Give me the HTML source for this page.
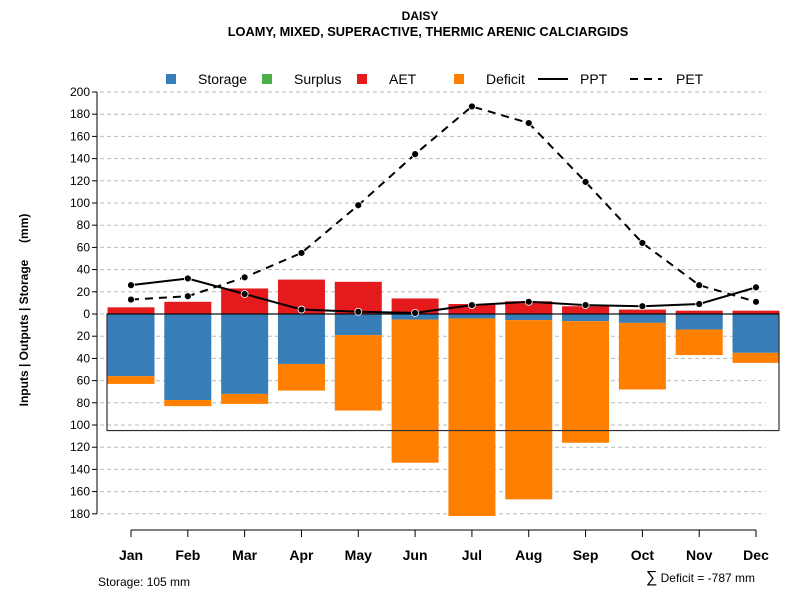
<!DOCTYPE html>
<html><head><meta charset="utf-8"><style>
body{margin:0;background:#fff}
svg text{font-family:"Liberation Sans",sans-serif}
</style></head><body>
<svg id="c" width="800" height="600">
<text x="420" y="20" text-anchor="middle" font-size="12" font-weight="bold">DAISY</text>
<text x="428" y="36" text-anchor="middle" font-size="12.8" font-weight="bold">LOAMY, MIXED, SUPERACTIVE, THERMIC ARENIC CALCIARGIDS</text>
<g font-size="14">
<rect x="166" y="74" width="10" height="10" fill="#377eb8"/><text x="198" y="84">Storage</text>
<rect x="262" y="74" width="10" height="10" fill="#4daf4a"/><text x="294" y="84">Surplus</text>
<rect x="357" y="74" width="10" height="10" fill="#e41a1c"/><text x="389" y="84">AET</text>
<rect x="454" y="74" width="10" height="10" fill="#ff7f00"/><text x="486" y="84">Deficit</text>
<line x1="538" y1="79" x2="568" y2="79" stroke="#000" stroke-width="2"/><text x="580" y="84">PPT</text>
<line x1="630" y1="79" x2="662" y2="79" stroke="#000" stroke-width="2" stroke-dasharray="8,6"/><text x="676" y="84">PET</text>
</g>
<text transform="translate(28,310) rotate(-90)" text-anchor="middle" font-size="12" font-weight="bold" xml:space="preserve">Inputs | Outputs | Storage     (mm)</text>
<text x="98" y="586" font-size="12">Storage: 105 mm</text>
<text x="755" y="582" text-anchor="end" font-size="12"><tspan font-size="16">∑</tspan> Deficit = -787 mm</text>
<g id="g"></g>
</svg>
<script>
const months=["Jan","Feb","Mar","Apr","May","Jun","Jul","Aug","Sep","Oct","Nov","Dec"];
const aet=[6,11,23,31,29,14,9,11.5,7,4,3,3];
const storage=[56,77.5,72,45,19,5,4,5.5,6.5,8,14,35];
const deficit=[7,5.5,9,24,68,129,178,161.5,109.5,60,23,9];
const ppt=[26,32,18,4,2,1,8,11,8,7,9,24];
const pet=[13,16,33,55,98,144,187,172,119,64,26,11];
const yTicks=[200,180,160,140,120,100,80,60,40,20,0,-20,-40,-60,-80,-100,-120,-140,-160,-180];
const storageCap=105;
const NS="http://www.w3.org/2000/svg";
const g=document.getElementById('g');
const y=v=>314-v*1.11;
const x=i=>131+i*56.82;
function mk(t,a){const e=document.createElementNS(NS,t);for(const k in a)e.setAttribute(k,a[k]);g.appendChild(e);return e;}
yTicks.forEach(v=>{
 const l=mk('line',{x1:100,x2:766,y1:y(v),y2:y(v),stroke:'#bbb','stroke-dasharray':'4,3'});
 
 
 mk('line',{x1:92,x2:97,y1:y(v),y2:y(v),stroke:'#000'});
 const t=mk('text',{x:90,y:y(v)+4,'text-anchor':'end','font-size':12});t.textContent=Math.abs(v);
 
 
});
mk('line',{x1:97,x2:97,y1:y(200),y2:y(-180),stroke:'#000'});
const bw=47;
months.forEach((m,i)=>{
 const cx=x(i);
 const a=mk('rect',{x:cx-bw/2,y:y(aet[i]),width:bw,height:aet[i]*1.11,fill:'#e41a1c'});
 
 
 const s=mk('rect',{x:cx-bw/2,y:y(0),width:bw,height:storage[i]*1.11,fill:'#377eb8'});
 
 
 const d=mk('rect',{x:cx-bw/2,y:y(-storage[i]),width:bw,height:deficit[i]*1.11,fill:'#ff7f00'});
 
 
 mk('line',{x1:cx,x2:cx,y1:530,y2:537,stroke:'#000'});
 const t=mk('text',{x:cx,y:560,'text-anchor':'middle','font-size':14,'font-weight':'bold'});t.textContent=m;
 
 
});
mk('line',{x1:x(0),x2:x(11),y1:530,y2:530,stroke:'#000'});
const box=mk('rect',{x:107,y:y(0),width:672,height:storageCap*1.11,fill:'none',stroke:'#333','stroke-width':1.2});


mk('line',{x1:107,x2:779,y1:y(0),y2:y(0),stroke:'#000'});
function series(arr,dash,name){
 const p=mk('polyline',{points:arr.map((v,i)=>x(i)+','+y(v)).join(' '),fill:'none',stroke:'#000','stroke-width':2,'stroke-dasharray':dash});
 
 
 arr.forEach((v,i)=>{const c=mk('circle',{cx:x(i),cy:y(v),r:3.5,fill:'#000',stroke:'#fff','stroke-width':0.8});
 
 });
}
series(pet,'8,6','pet');
series(ppt,'none','ppt');
</script>
</body></html>
